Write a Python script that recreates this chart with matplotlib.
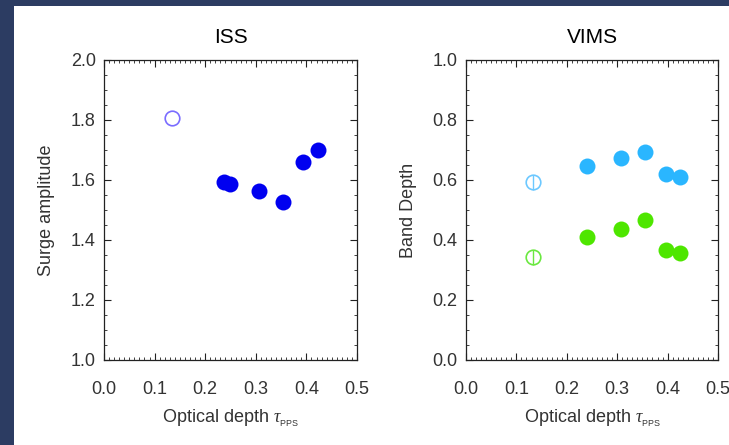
import numpy as np
import matplotlib.pyplot as plt
from matplotlib.patches import Rectangle
from matplotlib.ticker import MultipleLocator

plt.rcParams['font.family'] = ['Liberation Sans', 'DejaVu Sans']
plt.rcParams['mathtext.fontset'] = 'custom'
plt.rcParams['mathtext.it'] = 'Liberation Serif:italic'
plt.rcParams['mathtext.rm'] = 'Liberation Sans'

# ISS data
iss_tau = [0.237, 0.249, 0.306, 0.354, 0.393, 0.423]
iss_amp = [1.593, 1.588, 1.563, 1.527, 1.660, 1.700]
iss_open_tau = [0.134]
iss_open_amp = [1.807]

# VIMS data
vims_tau = [0.240, 0.307, 0.355, 0.397, 0.425]
vims_blue = [0.647, 0.673, 0.693, 0.620, 0.610]
vims_green = [0.410, 0.437, 0.467, 0.367, 0.357]
vims_open_tau = [0.133]
vims_open_blue = [0.593]
vims_open_green = [0.343]
vims_open_err = [0.025]

fig = plt.figure(figsize=(7.29, 4.45), dpi=100)
fig.patch.set_facecolor('#2c3c62')
fig.add_artist(Rectangle((14 / 729, 0), 1, 439 / 445, transform=fig.transFigure,
                         facecolor='white', edgecolor='none', zorder=-10))

ax1 = fig.add_axes([104 / 729, 85 / 445, 253 / 729, 300 / 445])
ax2 = fig.add_axes([466 / 729, 85 / 445, 252 / 729, 300 / 445])

ax1.plot(iss_tau, iss_amp, 'o', color='#0000f0', ms=11.5, mec='none')
ax1.plot(iss_open_tau, iss_open_amp, 'o', mfc='none', mec='#7a6cff', ms=10.5, mew=1.2)
ax1.set_ylim(1.0, 2.0)
ax1.set_ylabel('Surge amplitude', fontsize=13, color='#333333', labelpad=11)
ax1.set_title('ISS', fontsize=15, pad=12)
ax1.yaxis.set_major_locator(MultipleLocator(0.2))
ax1.yaxis.set_minor_locator(MultipleLocator(0.05))

ax2.plot(vims_tau, vims_blue, 'o', color='#2ab6ff', ms=11.5, mec='none')
ax2.plot(vims_tau, vims_green, 'o', color='#4ee600', ms=11.5, mec='none')
ax2.errorbar(vims_open_tau, vims_open_blue, yerr=vims_open_err, fmt='o', mfc='none',
             mec='#6cc8ff', ecolor='#6cc8ff', ms=10.5, mew=1.2, elinewidth=1.0, capsize=0)
ax2.errorbar(vims_open_tau, vims_open_green, yerr=vims_open_err, fmt='o', mfc='none',
             mec='#6ae840', ecolor='#6ae840', ms=10.5, mew=1.2, elinewidth=1.0, capsize=0)
ax2.set_ylim(0.0, 1.0)
ax2.set_ylabel('Band Depth', fontsize=13, color='#333333', labelpad=11)
ax2.set_title('VIMS', fontsize=15, pad=12)
ax2.yaxis.set_major_locator(MultipleLocator(0.2))
ax2.yaxis.set_minor_locator(MultipleLocator(0.05))

for ax in (ax1, ax2):
    ax.set_facecolor('none')
    ax.set_xlim(0.0, 0.5)
    ax.xaxis.set_major_locator(MultipleLocator(0.1))
    ax.xaxis.set_minor_locator(MultipleLocator(0.01))
    ax.set_xlabel(r'Optical depth $\tau_{\mathrm{_{PPS}}}$', fontsize=13, color='#333333', labelpad=7)
    ax.tick_params(which='both', direction='in', top=True, right=True, colors='#222222',
                   labelcolor='#333333', labelsize=13)
    ax.tick_params(axis='x', which='both', pad=15)
    ax.tick_params(axis='y', which='both', pad=6)
    ax.tick_params(which='major', length=5, width=0.8)
    ax.tick_params(which='minor', length=2.5, width=0.6)
    ax.xaxis.set_major_formatter(plt.FormatStrFormatter('%.1f'))
    ax.yaxis.set_major_formatter(plt.FormatStrFormatter('%.1f'))
    for s in ax.spines.values():
        s.set_linewidth(0.9)
        s.set_color('#222222')

fig.savefig('out.png', dpi=100, facecolor=fig.get_facecolor())
